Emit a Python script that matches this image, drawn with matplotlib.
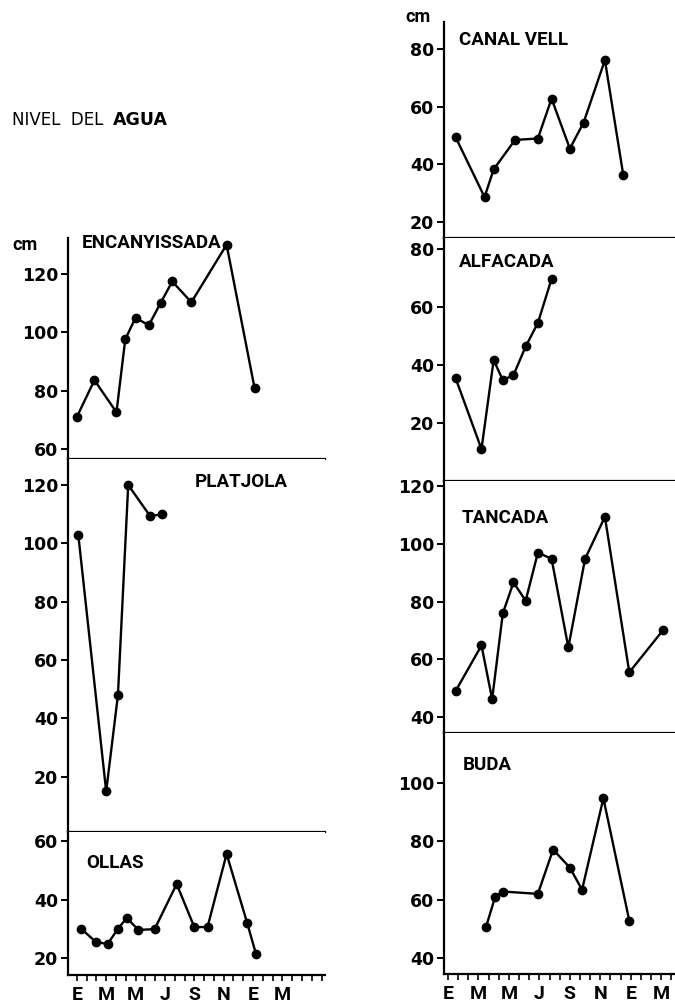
import matplotlib
matplotlib.use("Agg")
import matplotlib.pyplot as plt
from matplotlib.ticker import MultipleLocator

# months counted from January (E) of the first year
month_labels = ["E", "M", "M", "J", "S", "N", "E", "M"]
month_ticks = [0, 2, 4, 6, 8, 10, 12, 14]

enc_x = [0.0, 1.2, 2.7, 3.3, 4.0, 4.9, 5.7, 6.5, 7.8, 10.2, 12.1]
enc_y = [71, 83.6, 72.6, 97.6, 105, 102.4, 110, 117.4, 110.3, 130, 81]

plat_x = [0.1, 2.0, 2.8, 3.5, 5.0, 5.8]
plat_y = [103, 15, 48, 120, 109.3, 110]

ollas_x = [0.3, 1.3, 2.1, 2.8, 3.4, 4.2, 5.3, 6.8, 8.0, 8.9, 10.2, 11.6, 12.2]
ollas_y = [30, 25.5, 24.8, 30, 33.7, 29.6, 29.9, 45.3, 30.6, 30.6, 55.6, 32, 21.4]

canal_x = [0.5, 2.4, 3.0, 4.4, 5.9, 6.8, 8.0, 8.9, 10.3, 11.5]
canal_y = [49.5, 28.7, 38.3, 48.5, 49, 62.8, 45.5, 54.5, 76.2, 36.5]

alfa_x = [0.5, 2.2, 3.0, 3.6, 4.3, 5.1, 5.9, 6.8]
alfa_y = [35.5, 11, 41.7, 34.8, 36.5, 46.4, 54.5, 69.7]

tanc_x = [0.5, 2.2, 2.9, 3.6, 4.3, 5.1, 5.9, 6.8, 7.9, 9.0, 10.3, 11.9, 14.1]
tanc_y = [49, 64.8, 46.2, 75.9, 86.6, 80.3, 96.9, 94.8, 64.1, 94.8, 109.3, 55.5, 70]

buda_x = [2.5, 3.1, 3.6, 5.9, 6.9, 8.0, 8.8, 10.2, 11.9]
buda_y = [50.7, 61, 62.8, 62, 77.2, 71, 63.4, 94.8, 52.8]

FONT = "Roboto"
TICKFONT = dict(family="DejaVu Sans", weight="bold", size=12.5)
W, H = 675, 1005


def panel(fig, box, xs, ys, name, name_xy, ylim, yticks, xlim, bottom=False):
    l, t, r, b = box
    ax = fig.add_axes([l / W, 1 - b / H, (r - l) / W, (b - t) / H])
    ax.plot(xs, ys, color="black", lw=1.7, marker="o", ms=6)
    ax.set_xlim(*xlim)
    ax.set_ylim(*ylim)
    ax.set_yticks(yticks)
    ax.set_yticklabels([str(v) for v in yticks], fontdict=TICKFONT)
    ax.tick_params(axis="y", direction="out", length=5, width=1.4, pad=2)
    for s in ["top", "right"]:
        ax.spines[s].set_visible(False)
    for s in ["left", "bottom"]:
        ax.spines[s].set_linewidth(1.6)
    if bottom:
        ax.set_xticks(month_ticks)
        ax.set_xticklabels(month_labels, family=FONT, weight="bold", size=14)
        ax.xaxis.set_minor_locator(MultipleLocator(2 / 3))
        ax.tick_params(axis="x", which="both", direction="out", length=4, width=1.2, pad=4)
    else:
        ax.set_xticks([])
    ax.text(name_xy[0], name_xy[1], name, transform=None, family=FONT,
            weight="bold", size=13.5, va="center", ha="left")
    return ax


fig = plt.figure(figsize=(W / 100, H / 100), dpi=100)

# pixel positions (from top-left) to display coordinates for the panel names
def px(x, y):
    return (x, H - y)

left_xlim = (-0.6, 16.9)
right_xlim = (-0.26, 14.9)

panel(fig, (68, 238, 325, 459), enc_x, enc_y, "ENCANYISSADA", px(82, 243),
      (56.6, 132.3), [60, 80, 100, 120], left_xlim)
panel(fig, (68, 459, 325, 832), plat_x, plat_y, "PLATJOLA", px(195, 482),
      (1.1, 128.9), [20, 40, 60, 80, 100, 120], left_xlim)
panel(fig, (68, 832, 325, 975), ollas_x, ollas_y, "OLLAS", px(86, 863),
      (14.2, 63.1), [20, 40, 60], left_xlim, bottom=True)

panel(fig, (444, 22, 675, 238), canal_x, canal_y, "CANAL VELL", px(459, 40),
      (14.5, 89.4), [20, 40, 60, 80], right_xlim)
panel(fig, (444, 238, 675, 481), alfa_x, alfa_y, "ALFACADA", px(459, 262),
      (0, 83.8), [20, 40, 60, 80], right_xlim)
panel(fig, (444, 481, 675, 733), tanc_x, tanc_y, "TANCADA", px(462, 518),
      (34.5, 121.7), [40, 60, 80, 100, 120], right_xlim)
panel(fig, (444, 733, 675, 974), buda_x, buda_y, "BUDA", px(463, 765),
      (34.5, 117.2), [40, 60, 80, 100], right_xlim, bottom=True)

fig.text(12 / W, 1 - 245 / H, "cm", family=FONT, weight="bold", size=13, va="center")
fig.text(405 / W, 1 - 17 / H, "cm", family=FONT, weight="bold", size=13, va="center")
fig.text(12 / W, 1 - 120 / H, "NIVEL  DEL  ", family="DejaVu Sans", size=12, va="center")
fig.text(113 / W, 1 - 120 / H, "AGUA", family="DejaVu Sans", weight="bold", size=12.5, va="center")

fig.savefig("out.png", dpi=100)
